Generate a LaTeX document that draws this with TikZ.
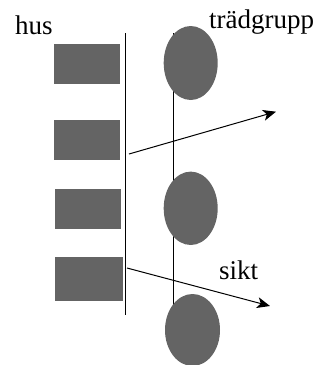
\documentclass[tikz,border=0pt]{standalone}
\usepackage{fontspec}
\setmainfont{Liberation Serif}
\usetikzlibrary{arrows.meta}
\definecolor{blockgray}{RGB}{100,100,100}
\begin{document}
\begin{tikzpicture}[x=1pt,y=-1pt,
  house/.style={fill=blockgray,draw=none},
  tree/.style={fill=blockgray,draw=none},
  wall/.style={line width=1.1pt,black},
  sight/.style={line width=1pt,-{Stealth[length=13pt,width=11pt,inset=3.5pt]}},
  lbl/.style={font=\fontsize{27}{30}\selectfont,inner sep=0pt,anchor=base west}]
\useasboundingbox (0,0) rectangle (322,365);
% house wall line
\coordinate (wt) at (125.7,33);
\coordinate (wb) at (125.7,315);
\draw[wall] (wt) -- (wb);
% houses
\fill[house] (54,44) rectangle (120,84);
\fill[house] (54,120) rectangle (120,160);
\fill[house] (55,189) rectangle (121,229);
\fill[house] (55,257) rectangle (123,301);
% tree group line
\coordinate (tt) at (173.3,33);
\coordinate (tb) at (173.3,305);
\draw[wall] (tt) -- (tb);
% trees
\fill[tree] (190.7,63) ellipse [x radius=27, y radius=37];
\fill[tree] (190.7,208.3) ellipse [x radius=27, y radius=36.7];
\fill[tree] (192.5,330) ellipse [x radius=27.5, y radius=36];
% sight arrows
\coordinate (a1s) at (129,154);
\coordinate (a1e) at (276,111.7);
\coordinate (a2s) at (127,268);
\coordinate (a2e) at (270,306);
\draw[sight] (a1s) -- (a1e);
\draw[sight] (a2s) -- (a2e);
% labels
\node[lbl] (hus) at (15,34) {hus};
\node[lbl] (tg) at (209,28) {trädgrupp};
\node[lbl] (sikt) at (219,279) {sikt};
\end{tikzpicture}
\end{document}
